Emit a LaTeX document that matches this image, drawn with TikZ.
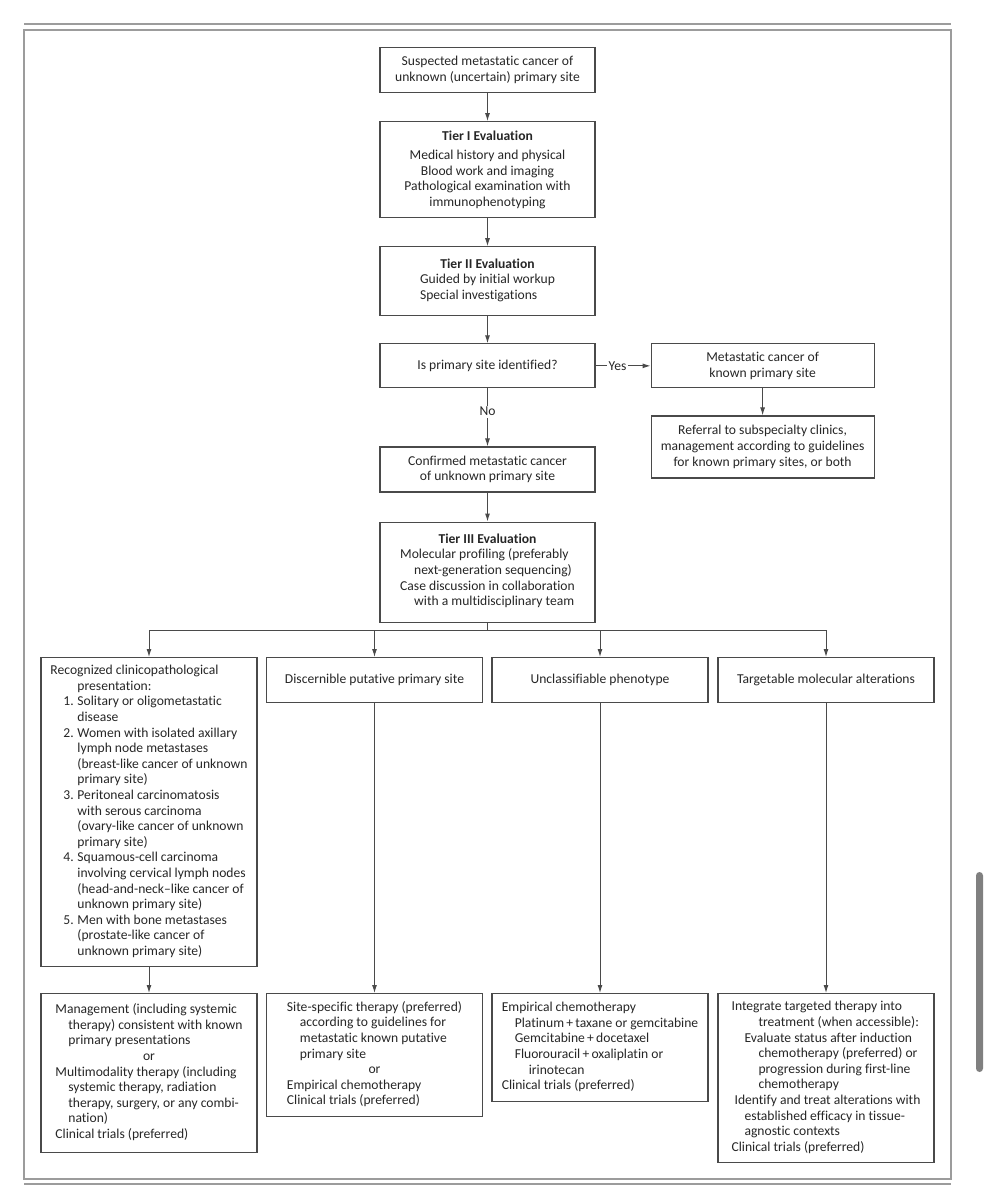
\documentclass[tikz,border=0pt]{standalone}
\usepackage{fontspec}
\setmainfont{Carlito}[Ligatures={TeX,NoCommon}]
\usetikzlibrary{shapes, arrows.meta, positioning}
\definecolor{ink}{HTML}{262626}
\definecolor{edge}{HTML}{4A4A4A}
\definecolor{framegray}{HTML}{9C9C9C}
\tikzstyle{box}    = [rectangle, draw=edge, line width=1.1pt, text=ink, align=center, inner xsep=2pt, inner ysep=0pt, minimum width=215pt, font=\fontsize{13.6}{15.6}\selectfont]
\tikzstyle{rowbox} = [box, minimum width=216pt, anchor=north]
\tikzstyle{lbl}    = [fill=white, inner sep=1.5pt, text=ink, font=\fontsize{13.6}{15.6}\selectfont]
\tikzstyle{single} = [draw=edge, line width=1pt, -{Latex[length=8pt,width=5pt]}]
\tikzstyle{plain}  = [draw=edge, line width=1pt]

\begin{document}
\begin{tikzpicture}[x=1pt, y=-1pt, node distance=28pt]
    \useasboundingbox (0,0) rectangle (991,1200);
    % page frame
    \draw[framegray, line width=2pt] (24,24) -- (951,24);
    \draw[framegray, line width=2pt] (24,30) rectangle (951,1179);
    \draw[framegray, line width=2pt] (24,1184) -- (951,1184);
    \fill[gray, rounded corners=3.5pt] (976,872) rectangle (983,1072);

    % centre column
    \node[box, minimum height=45pt, anchor=north](suspect) at (487.5,47){Suspected metastatic cancer of\\unknown (uncertain) primary site};
    \node[box, minimum height=96pt, below=of suspect](tier1){\textbf{Tier I Evaluation}\\[3.5pt]Medical history and physical\\Blood work and imaging\\Pathological examination with\\immunophenotyping};
    \node[box, minimum height=69pt, below=of tier1](tier2){\textbf{Tier II Evaluation}\\[3.5pt]\begin{tabular}{@{}l@{}}Guided by initial workup\\Special investigations\end{tabular}};
    \node[box, minimum height=44pt, below=27pt of tier2](isprim){Is primary site identified?};
    \node[box, minimum width=223pt, minimum height=44pt, right=55pt of isprim](known){Metastatic cancer of\\known primary site};
    \node[box, minimum width=223pt, minimum height=62pt, below=27pt of known](referral){Referral to subspecialty clinics,\\management according to guidelines\\for known primary sites, or both};
    \node[box, minimum height=45pt, below=58pt of isprim](confirmed){Confirmed metastatic cancer\\of unknown primary site};
    \node[box, minimum height=100pt, below=29pt of confirmed](tier3){\textbf{Tier III Evaluation}\\[3.5pt]\begin{tabular}{@{}l@{}}Molecular profiling (preferably\\\hspace*{14pt}next-generation sequencing)\\Case discussion in collaboration\\\hspace*{14pt}with a multidisciplinary team\end{tabular}};

    % branches
    \coordinate (bus) at (487.5,630);
    \node[rowbox, minimum height=309pt](recog) at (149,657){\begin{tabular}{@{}l@{}}
        Recognized clinicopathological\\
        \hspace*{27pt}presentation:\\
        \hspace*{13pt}\makebox[14pt][l]{1.}Solitary or oligometastatic\\
        \hspace*{27pt}disease\\
        \hspace*{13pt}\makebox[14pt][l]{2.}Women with isolated axillary\\
        \hspace*{27pt}lymph node metastases\\
        \hspace*{27pt}(breast-like cancer of unknown\\
        \hspace*{27pt}primary site)\\
        \hspace*{13pt}\makebox[14pt][l]{3.}Peritoneal carcinomatosis\\
        \hspace*{27pt}with serous carcinoma\\
        \hspace*{27pt}(ovary-like cancer of unknown\\
        \hspace*{27pt}primary site)\\
        \hspace*{13pt}\makebox[14pt][l]{4.}Squamous-cell carcinoma\\
        \hspace*{27pt}involving cervical lymph nodes\\
        \hspace*{27pt}(head-and-neck--like cancer of\\
        \hspace*{27pt}unknown primary site)\\
        \hspace*{13pt}\makebox[14pt][l]{5.}Men with bone metastases\\
        \hspace*{27pt}(prostate-like cancer of\\
        \hspace*{27pt}unknown primary site)\end{tabular}};
    \node[rowbox, minimum height=45pt](putative) at (374.5,657){Discernible putative primary site};
    \node[rowbox, minimum height=45pt](unclass) at (600,657){Unclassifiable phenotype};
    \node[rowbox, minimum height=45pt](target) at (826,657){Targetable molecular alterations};

    % treatment
    \node[rowbox, minimum height=159pt](mgmt) at (149,993){\begin{tabular}{@{}l@{}}
        Management (including systemic\\
        \hspace*{13pt}therapy) consistent with known\\
        \hspace*{13pt}primary presentations\\
        \multicolumn{1}{@{}c@{}}{or}\\
        Multimodality therapy (including\\
        \hspace*{13pt}systemic therapy, radiation\\
        \hspace*{13pt}therapy, surgery, or any combi-\\
        \hspace*{13pt}nation)\\
        Clinical trials (preferred)\end{tabular}};
    \node[rowbox, minimum height=123pt](sitespec) at (374.5,993){\begin{tabular}{@{}l@{}}
        Site-specific therapy (preferred)\\
        \hspace*{13pt}according to guidelines for\\
        \hspace*{13pt}metastatic known putative\\
        \hspace*{13pt}primary site\\
        \multicolumn{1}{@{}c@{}}{or}\\
        Empirical chemotherapy\\
        Clinical trials (preferred)\end{tabular}};
    \node[rowbox, minimum height=108pt](empiric) at (600,993){\begin{tabular}{@{}l@{}}
        Empirical chemotherapy\\
        \hspace*{13pt}Platinum\,+\,taxane or gemcitabine\\
        \hspace*{13pt}Gemcitabine\,+\,docetaxel\\
        \hspace*{13pt}Fluorouracil\,+\,oxaliplatin or\\
        \hspace*{27pt}irinotecan\\
        Clinical trials (preferred)\end{tabular}};
    \node[rowbox, minimum height=169pt](integrate) at (826,993){\begin{tabular}{@{}l@{}}
        Integrate targeted therapy into\\
        \hspace*{27pt}treatment (when accessible):\\
        \hspace*{13pt}Evaluate status after induction\\
        \hspace*{27pt}chemotherapy (preferred) or\\
        \hspace*{27pt}progression during first-line\\
        \hspace*{27pt}chemotherapy\\
        \hspace*{3pt}Identify and treat alterations with\\
        \hspace*{13pt}established efficacy in tissue-\\
        \hspace*{13pt}agnostic contexts\\
        Clinical trials (preferred)\end{tabular}};

    % connectors
    \path[single](suspect) -- (tier1);
    \path[single](tier1) -- (tier2);
    \path[single](tier2) -- (isprim);
    \path[single](isprim) -- node[lbl, pos=0.4]{Yes}(known);
    \path[single](known) -- (referral);
    \path[single](isprim) -- node[lbl, pos=0.4]{No}(confirmed);
    \path[single](confirmed) -- (tier3);
    \path[plain](tier3.south) -- (tier3.south |- bus);
    \path[plain](recog.north |- bus) -- (target.north |- bus);
    \foreach \n in {recog, putative, unclass, target}
        \path[single](\n.north |- bus) -- (\n.north);
    \path[single](recog) -- (mgmt);
    \path[single](putative) -- (sitespec);
    \path[single](unclass) -- (empiric);
    \path[single](target) -- (integrate);
\end{tikzpicture}
\end{document}
